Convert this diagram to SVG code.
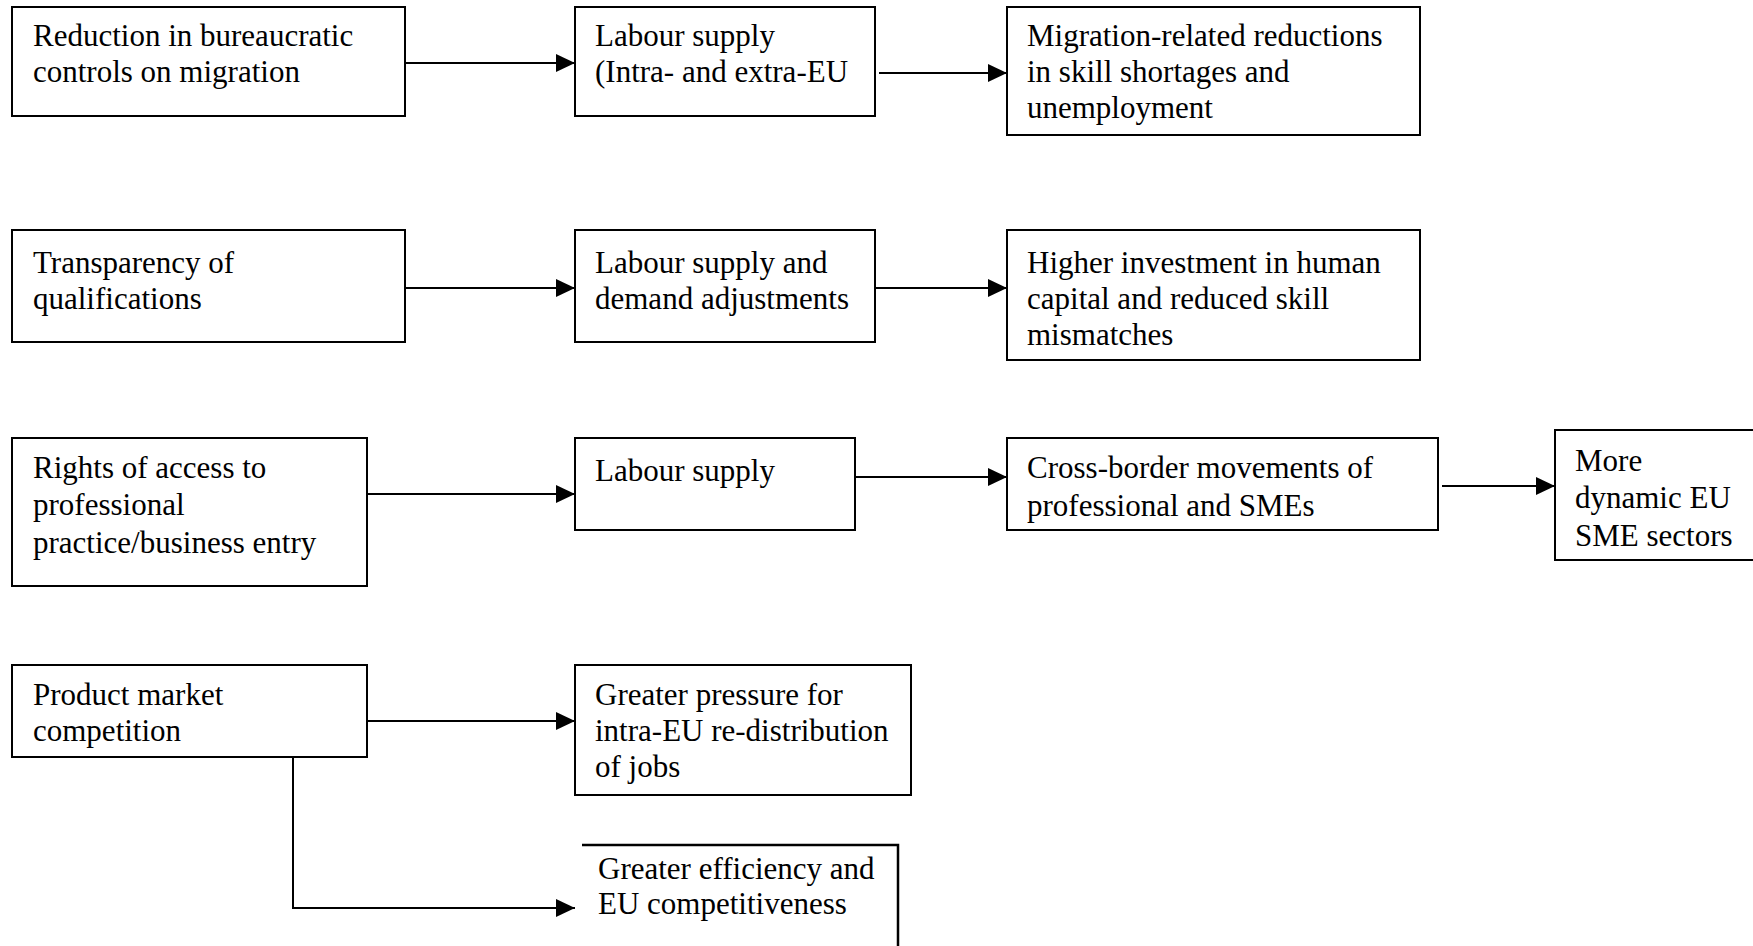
<svg xmlns="http://www.w3.org/2000/svg" width="1753" height="946" viewBox="0 0 1753 946">
  <style>
    .box { fill: #fff; stroke: #000; stroke-width: 2; }
    .open { fill: none; stroke: #000; stroke-width: 2.5; }
    .lbl { font-family: "Liberation Serif", "Times New Roman", serif; font-size: 31px; fill: #000; }
    .wire { fill: none; stroke: #000; stroke-width: 2; marker-end: url(#head); }
  </style>
  <defs>
    <marker id="head" viewBox="0 0 19 18" refX="19" refY="9" markerWidth="19" markerHeight="18" markerUnits="userSpaceOnUse" orient="auto">
      <path d="M0,0 L19,9 L0,18 z" fill="#000"/>
    </marker>
  </defs>
  <rect width="1753" height="946" fill="#fff"/>

  <!-- row 1 -->
  <g id="reduction">
    <rect class="box" x="12" y="7" width="393" height="109"/>
    <text class="lbl" x="33" y="46">Reduction in bureaucratic</text>
    <text class="lbl" x="33" y="82">controls on migration</text>
  </g>
  <g id="labour-supply-1">
    <rect class="box" x="575" y="7" width="300" height="109"/>
    <text class="lbl" x="595" y="46">Labour supply</text>
    <text class="lbl" x="595" y="82">(Intra- and extra-EU</text>
  </g>
  <g id="migration-reductions">
    <rect class="box" x="1007" y="7" width="413" height="128"/>
    <text class="lbl" x="1027" y="46">Migration-related reductions</text>
    <text class="lbl" x="1027" y="82">in skill shortages and</text>
    <text class="lbl" x="1027" y="118">unemployment</text>
  </g>

  <!-- row 2 -->
  <g id="transparency">
    <rect class="box" x="12" y="230" width="393" height="112"/>
    <text class="lbl" x="33" y="273">Transparency of</text>
    <text class="lbl" x="33" y="309">qualifications</text>
  </g>
  <g id="labour-adjustments">
    <rect class="box" x="575" y="230" width="300" height="112"/>
    <text class="lbl" x="595" y="273">Labour supply and</text>
    <text class="lbl" x="595" y="309">demand adjustments</text>
  </g>
  <g id="human-capital">
    <rect class="box" x="1007" y="230" width="413" height="130"/>
    <text class="lbl" x="1027" y="273">Higher investment in human</text>
    <text class="lbl" x="1027" y="309">capital and reduced skill</text>
    <text class="lbl" x="1027" y="345">mismatches</text>
  </g>

  <!-- row 3 -->
  <g id="rights-of-access">
    <rect class="box" x="12" y="438" width="355" height="148"/>
    <text class="lbl" x="33" y="478">Rights of access to</text>
    <text class="lbl" x="33" y="515">professional</text>
    <text class="lbl" x="33" y="553">practice/business entry</text>
  </g>
  <g id="labour-supply-3">
    <rect class="box" x="575" y="438" width="280" height="92"/>
    <text class="lbl" x="595" y="481">Labour supply</text>
  </g>
  <g id="cross-border">
    <rect class="box" x="1007" y="438" width="431" height="92"/>
    <text class="lbl" x="1027" y="478">Cross-border movements of</text>
    <text class="lbl" x="1027" y="516">professional and SMEs</text>
  </g>
  <g id="dynamic-sme">
    <rect class="box" x="1555" y="430" width="210" height="130"/>
    <text class="lbl" x="1575" y="471">More</text>
    <text class="lbl" x="1575" y="508">dynamic EU</text>
    <text class="lbl" x="1575" y="546">SME sectors</text>
  </g>

  <!-- row 4 -->
  <g id="product-market">
    <rect class="box" x="12" y="665" width="355" height="92"/>
    <text class="lbl" x="33" y="705">Product market</text>
    <text class="lbl" x="33" y="741">competition</text>
  </g>
  <g id="job-redistribution">
    <rect class="box" x="575" y="665" width="336" height="130"/>
    <text class="lbl" x="595" y="705">Greater pressure for</text>
    <text class="lbl" x="595" y="741">intra-EU re-distribution</text>
    <text class="lbl" x="595" y="777">of jobs</text>
  </g>
  <g id="efficiency">
    <path class="open" d="M582,845 H898 V950"/>
    <text class="lbl" x="598" y="879">Greater efficiency and</text>
    <text class="lbl" x="598" y="914">EU competitiveness</text>
  </g>

  <g id="connectors">
    <path class="wire" d="M405,63 H575"/>
    <path class="wire" d="M879,73 H1007"/>
    <path class="wire" d="M405,288 H575"/>
    <path class="wire" d="M875,288 H1007"/>
    <path class="wire" d="M367,494 H575"/>
    <path class="wire" d="M855,477 H1007"/>
    <path class="wire" d="M1442,486 H1555"/>
    <path class="wire" d="M367,721 H575"/>
    <path class="wire" d="M293,757 V908 H575"/>
  </g>
</svg>
